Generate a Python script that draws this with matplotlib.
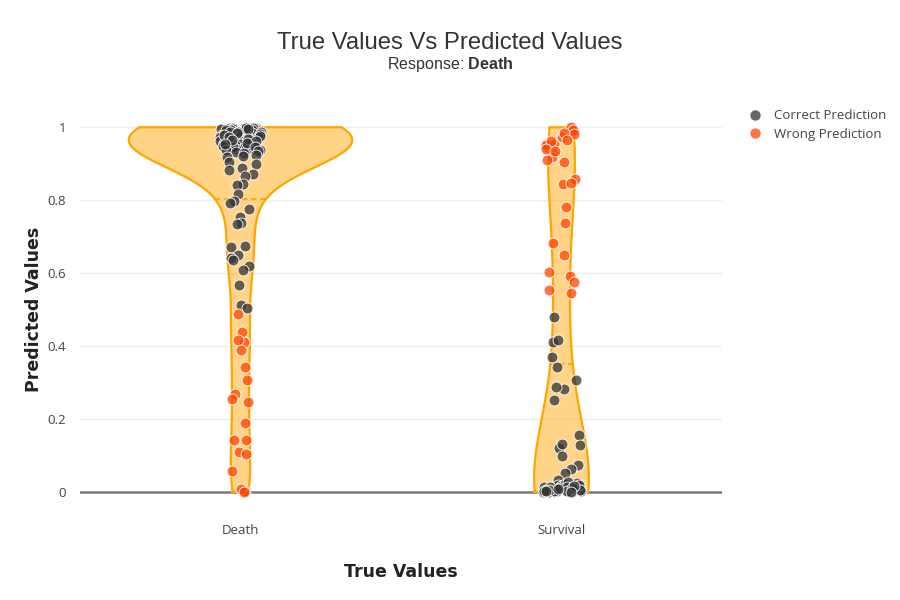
import numpy as np
import matplotlib.pyplot as plt
from matplotlib.lines import Line2D

plt.rcParams['mathtext.fontset'] = 'custom'
plt.rcParams['mathtext.rm'] = 'Liberation Sans'
plt.rcParams['mathtext.bf'] = 'Liberation Sans:bold'

# data
categories = ['Death', 'Survival']

death_correct = [
    1.000, 0.999, 0.998, 0.997, 0.999, 0.996, 0.994, 0.998, 0.993, 0.991,
    0.995, 0.989, 0.992, 0.987, 0.990, 0.985, 0.988, 0.983, 0.986, 0.981,
    0.984, 0.979, 0.982, 0.977, 0.980, 0.975, 0.978, 0.973, 0.976, 0.971,
    0.974, 0.969, 0.972, 0.967, 0.970, 0.965, 0.968, 0.963, 0.966, 0.961,
    0.964, 0.958, 0.962, 0.955, 0.959, 0.952, 0.957, 0.949, 0.954, 0.946,
    0.951, 0.943, 0.948, 0.940, 0.945, 0.937, 0.941, 0.933, 0.938, 0.929,
    0.999, 0.997, 0.994, 0.992, 0.988, 0.986, 0.983, 0.979, 0.976, 0.972,
    0.969, 0.966, 0.962, 0.958, 0.953, 0.947, 0.934, 0.925, 0.921, 0.917,
    0.905, 0.899, 0.887, 0.884, 0.873, 0.866, 0.844, 0.841, 0.818, 0.798,
    0.793, 0.777, 0.754, 0.736, 0.735, 0.674, 0.672, 0.649, 0.640, 0.637,
    0.619, 0.608, 0.567, 0.512, 0.504]
death_wrong = [
    0.488, 0.439, 0.412, 0.415, 0.389, 0.343, 0.307, 0.268, 0.247, 0.254,
    0.190, 0.141, 0.142, 0.108, 0.103, 0.056, 0.001, 0.003, 0.007, 0.000]

survival_wrong = [
    0.990, 1.000, 0.992, 0.973, 0.981, 0.955, 0.946, 0.951, 0.955, 0.928,
    0.917, 0.905, 0.910, 0.985, 0.962, 0.966, 0.941, 0.935, 0.857, 0.844,
    0.846, 0.782, 0.738, 0.683, 0.649, 0.604, 0.592, 0.576, 0.546, 0.553]
survival_correct = [
    0.480, 0.410, 0.415, 0.369, 0.341, 0.307, 0.281, 0.287, 0.252, 0.156,
    0.120, 0.129, 0.132, 0.097, 0.074, 0.062, 0.051, 0.031,
    0.024, 0.019, 0.016, 0.013, 0.011, 0.009, 0.008, 0.006, 0.005, 0.004,
    0.003, 0.002, 0.002, 0.001, 0.001, 0.000, 0.000, 0.012, 0.018, 0.007,
    0.004, 0.010, 0.015, 0.021, 0.027, 0.003, 0.006, 0.009, 0.014, 0.001,
    0.005, 0.002, 0.008, 0.011, 0.017, 0.000, 0.003]

groups = [(death_correct, death_wrong), (survival_correct, survival_wrong)]

CORRECT = (0.2, 0.2, 0.2, 0.75)
WRONG = (1.0, 0.27, 0.0, 0.75)
VIOLIN = '#FFA500'
MAX_HALF = 0.348


def silverman(v):
    q1, q3 = np.percentile(v, [25, 75])
    return 1.059 * min(v.std(ddof=1), (q3 - q1) / 1.349) * len(v) ** -0.2


def kde_count(v, grid):
    # density scaled by number of samples ("count" scale mode)
    bw = silverman(v)
    z = (grid[None, :] - v[:, None]) / bw
    return np.exp(-0.5 * z ** 2).sum(axis=0) / (bw * np.sqrt(2 * np.pi))


fig = plt.figure(figsize=(9, 6), dpi=100)
ax = fig.add_axes([80 / 900, 90 / 600, 642 / 900, 401 / 600])

profiles = []
for correct, wrong in groups:
    allv = np.array(correct + wrong)
    grid = np.linspace(allv.min(), allv.max(), 300)
    profiles.append((allv, grid, kde_count(allv, grid)))
scale = MAX_HALF / max(p[2].max() for p in profiles)

rng = np.random.default_rng(7)
for i, ((correct, wrong), (allv, grid, dens)) in enumerate(zip(groups, profiles)):
    half = dens * scale
    ax.fill_betweenx(grid, i - half, i + half, color=VIOLIN, alpha=0.47, lw=0, zorder=2)
    ax.plot(np.r_[i - half, (i + half)[::-1], i - half[0]],
            np.r_[grid, grid[::-1], grid[0]], color=VIOLIN, lw=1.6, zorder=3)
    # mean line
    m = allv.mean()
    hm = np.interp(m, grid, half)
    ax.plot([i - hm, i + hm], [m, m], color=VIOLIN, lw=1.3, ls=(0, (3, 2)), zorder=3)

    for vals, col in ((correct, CORRECT), (wrong, WRONG)):
        vals = np.array(vals)
        f = np.clip((np.interp(vals, grid, half) / half.max()) ** 0.35, 0.3, 1)
        xs = i + rng.uniform(-1, 1, len(vals)) * 0.064 * f
        ax.scatter(xs, vals, s=62, color=col, edgecolor='white', linewidth=0.6, zorder=4)

ax.set_xlim(-0.5, 1.5)
ax.set_ylim(-0.05, 1.05)
ax.set_xticks([0, 1])
ax.set_xticklabels(categories)
ax.set_yticks([0, 0.2, 0.4, 0.6, 0.8, 1])
ax.set_yticklabels(['0', '0.2', '0.4', '0.6', '0.8', '1'])
ax.tick_params(length=0, labelsize=9.5, colors='#444', pad=10)
for lab in ax.get_xticklabels() + ax.get_yticklabels():
    lab.set_family('Open Sans')
for s in ax.spines.values():
    s.set_visible(False)
ax.grid(axis='y', color='#eeeeee', lw=1, zorder=0)
ax.axhline(0, color='#7a7a7a', lw=1.8, zorder=1)
ax.set_axisbelow(True)

ax.set_ylabel('Predicted Values', fontsize=12.5, fontweight='heavy', color='#222',
              family='DejaVu Sans', labelpad=3)
ax.set_xlabel('True Values', fontsize=12.5, fontweight='heavy', color='#222',
              family='DejaVu Sans', labelpad=19)

fig.text(0.5, 1 - 43 / 600, 'True Values Vs Predicted Values', ha='center', va='center',
         fontsize=17.2, color='#333', family='Liberation Sans')
fig.text(0.5, 1 - 65 / 600, r'Response: $\bf{Death}$', ha='center', va='center',
         fontsize=11.5, color='#333', family='Liberation Sans')

handles = [Line2D([], [], ls='', marker='o', ms=8, color=CORRECT, mec='white', mew=0.5),
           Line2D([], [], ls='', marker='o', ms=8, color=WRONG, mec='white', mew=0.5)]
leg = fig.legend(handles, ['Correct Prediction', 'Wrong Prediction'],
                 loc='upper left', bbox_to_anchor=(737 / 900, 1 - 104 / 600),
                 frameon=False, prop={'family': 'Open Sans', 'size': 9.5},
                 handletextpad=0.4, labelspacing=0.42, borderaxespad=0)
for t in leg.get_texts():
    t.set_color('#444')

fig.savefig('out.png', dpi=100)
